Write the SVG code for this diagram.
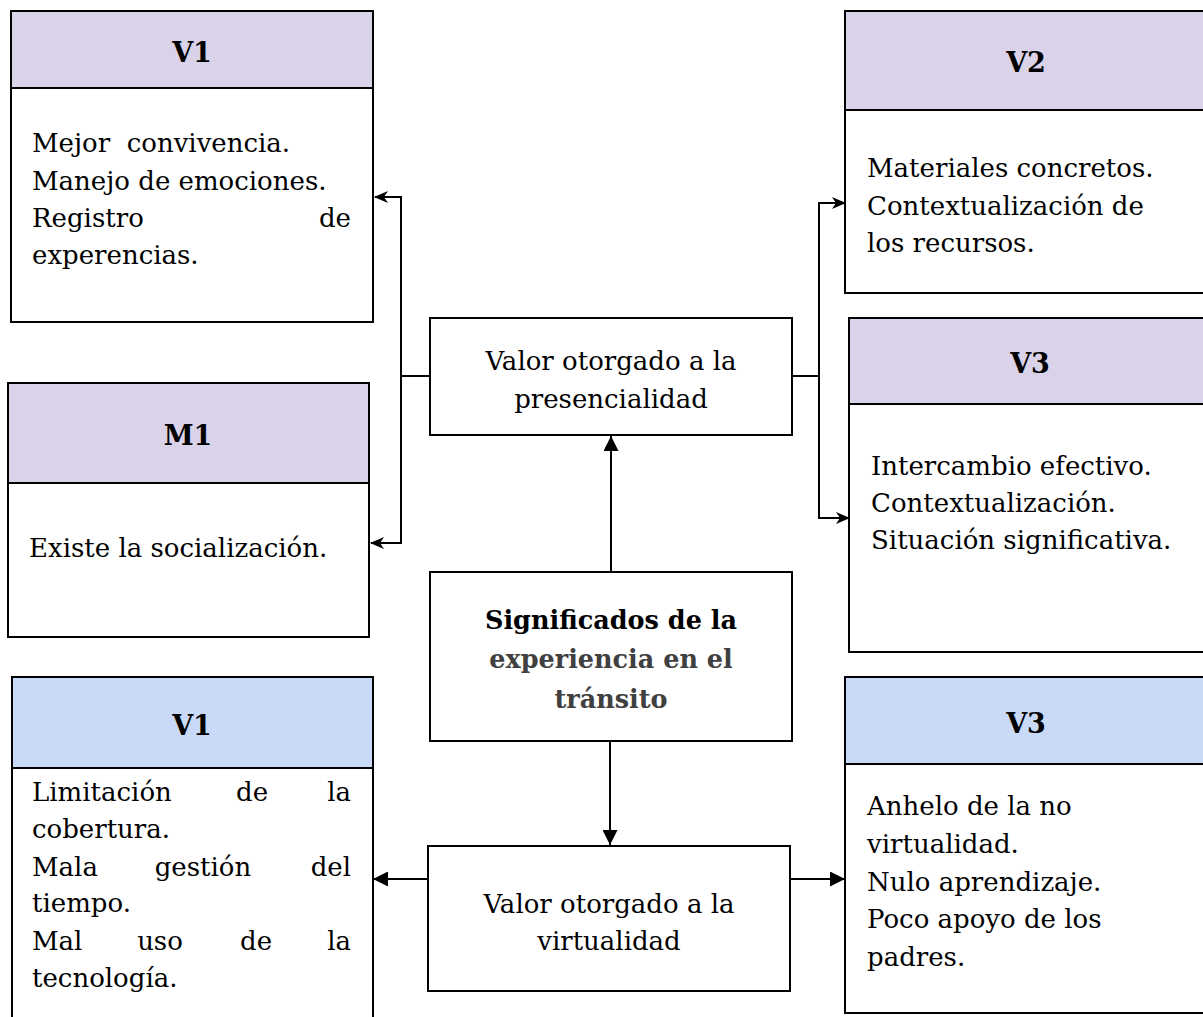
<svg xmlns="http://www.w3.org/2000/svg" width="1203" height="1017" viewBox="0 0 1203 1017">
<defs>
<style>
.box{fill:#fff;stroke:#000;stroke-width:2}
.hp{fill:#d9d2e9;stroke:#000;stroke-width:2}
.hb{fill:#c9daf8;stroke:#000;stroke-width:2}
.t{font-family:"DejaVu Serif","Liberation Serif",serif;font-size:26px;fill:#000}
.h{font-family:"DejaVu Serif","Liberation Serif",serif;font-size:27px;font-weight:bold;fill:#000;text-anchor:middle}
.c{text-anchor:middle}
.e{text-anchor:end}
.b{font-family:"DejaVu Serif","Liberation Serif",serif;font-size:25.5px;font-weight:bold;text-anchor:middle}
.ln{fill:none;stroke:#000;stroke-width:2}
</style>
<marker id="op" viewBox="0 0 14 12" refX="13" refY="6" markerWidth="14" markerHeight="12" markerUnits="userSpaceOnUse" orient="auto">
<path d="M0,0 L14,6 L0,12 L4,6 Z" fill="#000"/>
</marker>
<marker id="fl" viewBox="0 0 15 15" refX="15" refY="7.5" markerWidth="15" markerHeight="15" markerUnits="userSpaceOnUse" orient="auto">
<path d="M0,0 L15,7.5 L0,15 Z" fill="#000"/>
</marker>
</defs>
<rect width="1203" height="1017" fill="#fff"/>

<g id="connectors">
<path class="ln" d="M430,376 H401 V197 H375" marker-end="url(#op)"/>
<path class="ln" d="M401,376 V543 H371" marker-end="url(#op)"/>
<path class="ln" d="M792,376 H819 V203 H845" marker-end="url(#op)"/>
<path class="ln" d="M819,376 V518 H849" marker-end="url(#op)"/>
<path class="ln" d="M611,572 V436" marker-end="url(#fl)"/>
<path class="ln" d="M610,741 V845" marker-end="url(#fl)"/>
<path class="ln" d="M428,879 H373" marker-end="url(#fl)"/>
<path class="ln" d="M790,879 H845" marker-end="url(#fl)"/>
</g>

<g id="v1-top">
<rect class="box" x="11" y="11" width="362" height="311"/>
<rect class="hp" x="11" y="11" width="362" height="77"/>
<text class="h" x="192" y="62">V1</text>
<text class="t" x="32" y="152" xml:space="preserve">Mejor  convivencia.</text>
<text class="t" x="32" y="190">Manejo de emociones.</text>
<text class="t" x="32" y="227">Registro</text>
<text class="t e" x="351" y="227">de</text>
<text class="t" x="32" y="264">experencias.</text>
</g>

<g id="m1">
<rect class="box" x="8" y="383" width="361" height="254"/>
<rect class="hp" x="8" y="383" width="361" height="100"/>
<text class="h" x="188" y="445">M1</text>
<text class="t" x="29" y="557">Existe la socialización.</text>
</g>

<g id="presencialidad">
<rect class="box" x="430" y="318" width="362" height="117"/>
<text class="t c" x="611" y="370">Valor otorgado a la</text>
<text class="t c" x="611" y="408">presencialidad</text>
</g>

<g id="significados">
<rect class="box" x="430" y="572" width="362" height="169"/>
<text class="b" x="611" y="629" fill="#000">Significados de la</text>
<text class="b" x="611" y="668" fill="#404040">experiencia en el</text>
<text class="b" x="611" y="708" fill="#404040">tránsito</text>
</g>

<g id="virtualidad">
<rect class="box" x="428" y="846" width="362" height="145"/>
<text class="t c" x="609" y="913">Valor otorgado a la</text>
<text class="t c" x="609" y="950">virtualidad</text>
</g>

<g id="v2">
<rect class="box" x="845" y="11" width="380" height="282"/>
<rect class="hp" x="845" y="11" width="380" height="99"/>
<text class="h" x="1026" y="72">V2</text>
<text class="t" x="867" y="177">Materiales concretos.</text>
<text class="t" x="867" y="215">Contextualización de</text>
<text class="t" x="867" y="252">los recursos.</text>
</g>

<g id="v3-top">
<rect class="box" x="849" y="318" width="380" height="334"/>
<rect class="hp" x="849" y="318" width="380" height="86"/>
<text class="h" x="1030" y="373">V3</text>
<text class="t" x="871" y="475">Intercambio efectivo.</text>
<text class="t" x="871" y="512">Contextualización.</text>
<text class="t" x="871" y="549">Situación significativa.</text>
</g>

<g id="v1-bottom">
<rect class="box" x="12" y="677" width="361" height="360"/>
<rect class="hb" x="12" y="677" width="361" height="91"/>
<text class="h" x="192" y="735">V1</text>
<text class="t" x="32" y="801">Limitación</text>
<text class="t c" x="252" y="801">de</text>
<text class="t e" x="351" y="801">la</text>
<text class="t" x="32" y="838">cobertura.</text>
<text class="t" x="32" y="876">Mala</text>
<text class="t c" x="203" y="876">gestión</text>
<text class="t e" x="351" y="876">del</text>
<text class="t" x="32" y="912">tiempo.</text>
<text class="t" x="32" y="950">Mal</text>
<text class="t c" x="160" y="950">uso</text>
<text class="t c" x="256" y="950">de</text>
<text class="t e" x="351" y="950">la</text>
<text class="t" x="32" y="987">tecnología.</text>
</g>

<g id="v3-bottom">
<rect class="box" x="845" y="677" width="380" height="336"/>
<rect class="hb" x="845" y="677" width="380" height="87"/>
<text class="h" x="1026" y="733">V3</text>
<text class="t" x="867" y="815">Anhelo de la no</text>
<text class="t" x="867" y="853">virtualidad.</text>
<text class="t" x="867" y="891">Nulo aprendizaje.</text>
<text class="t" x="867" y="928">Poco apoyo de los</text>
<text class="t" x="867" y="966">padres.</text>
</g>
</svg>
